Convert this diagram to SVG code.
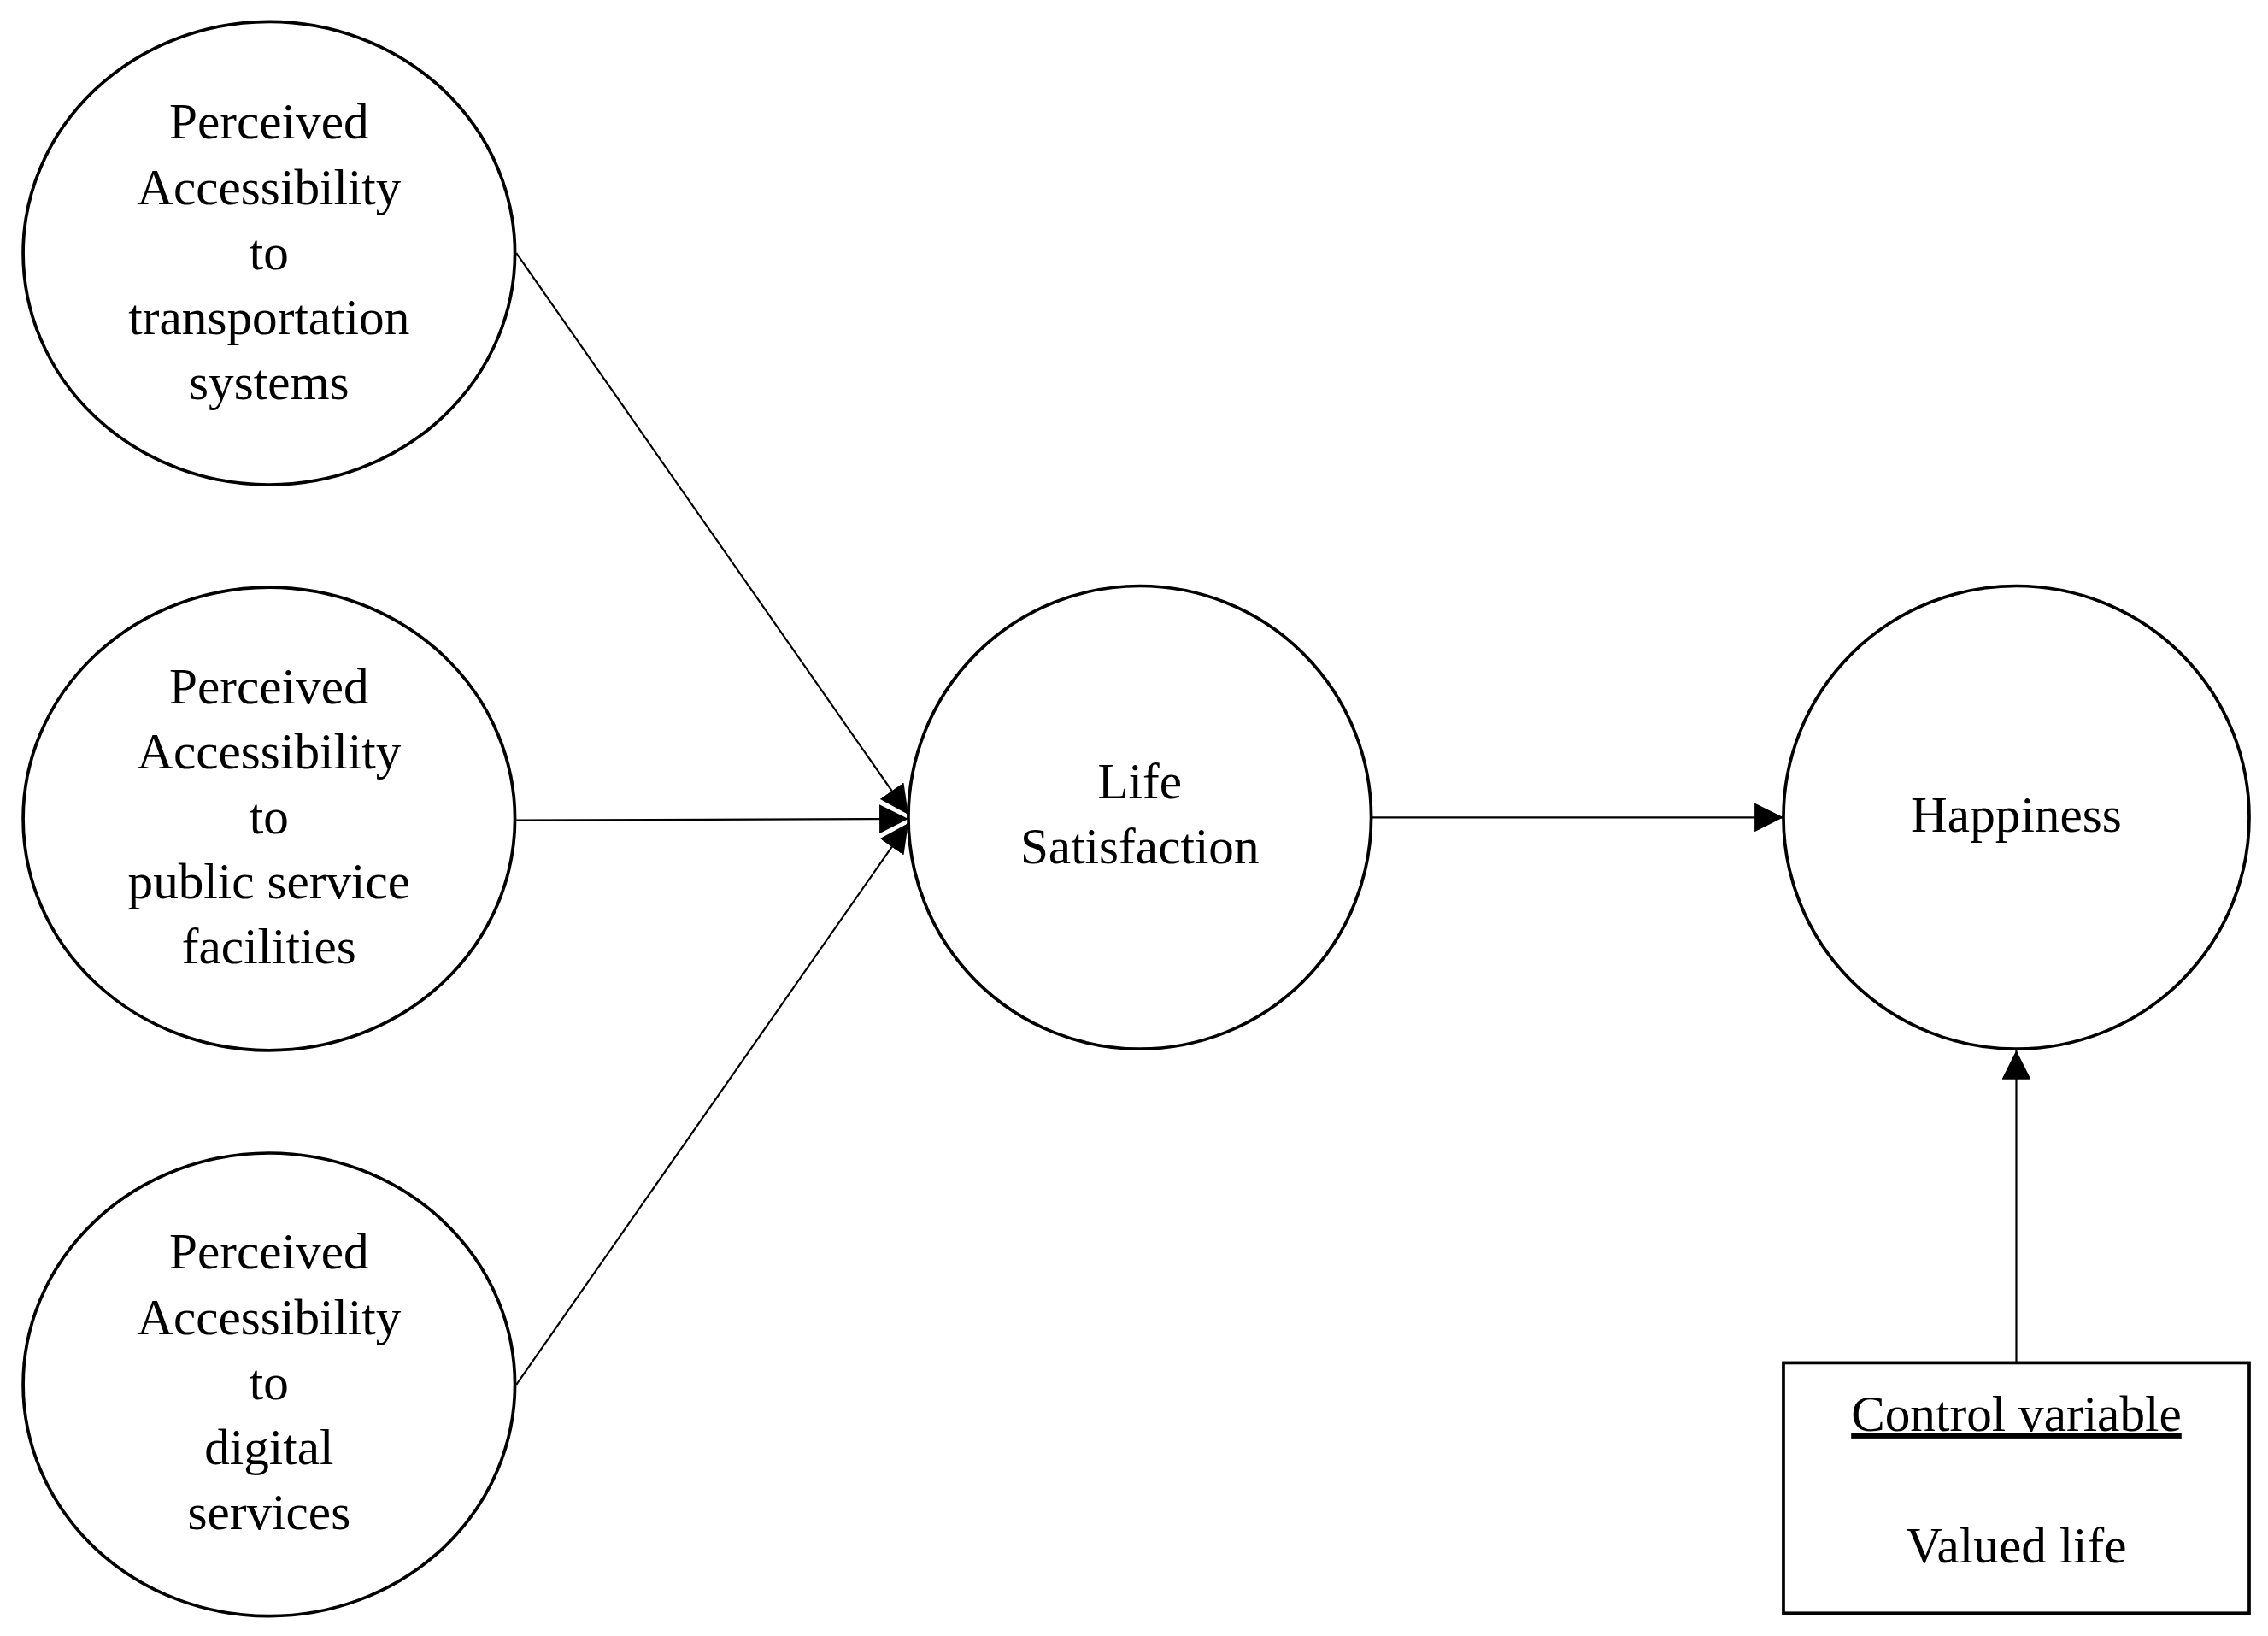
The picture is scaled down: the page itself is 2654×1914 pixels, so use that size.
<svg xmlns="http://www.w3.org/2000/svg" width="2654" height="1914" viewBox="0 0 2654 1914">
<style>
.n{fill:#fff;stroke:#000;stroke-width:2.2}
.t{font-family:"Liberation Serif","DejaVu Serif",serif;font-size:35px;text-anchor:middle;fill:#000}
.c{stroke:#000;stroke-width:1.3;fill:none}
</style>
<defs><marker id="a" markerWidth="10" markerHeight="10" refX="9" refY="5" orient="auto" markerUnits="userSpaceOnUse" viewBox="0 0 10 10"><path d="M0,0L10,5L0,10z" fill="#000"/></marker>
<marker id="b" viewBox="0 0 10 10" refX="10" refY="5" markerWidth="20" markerHeight="20" orient="auto" markerUnits="userSpaceOnUse"><path d="M0,0L10,5L0,10z" fill="#000"/></marker></defs>
<rect width="2654" height="1914" fill="#fff"/>
<g transform="scale(1.6926)">
<g id="connectors">
<line class="c" x1="357" y1="175" x2="628" y2="563" marker-end="url(#b)"/>
<line class="c" x1="357" y1="567" x2="628" y2="566" marker-end="url(#b)"/>
<line class="c" x1="357" y1="957" x2="628" y2="569" marker-end="url(#b)"/>
<line class="c" x1="948" y1="565" x2="1233" y2="565" marker-end="url(#b)"/>
<line class="c" x1="1394" y1="942" x2="1394" y2="726" marker-end="url(#b)"/>
</g>
<g id="n1"><ellipse class="n" cx="186" cy="175" rx="170" ry="160"/>
<text class="t" x="186" y="96">Perceived</text><text class="t" x="186" y="141">Accessibility</text><text class="t" x="186" y="186">to</text><text class="t" x="186" y="231">transportation</text><text class="t" x="186" y="276">systems</text></g>
<g id="n2"><ellipse class="n" cx="186" cy="566" rx="170" ry="160"/>
<text class="t" x="186" y="486">Perceived</text><text class="t" x="186" y="531">Accessibility</text><text class="t" x="186" y="576">to</text><text class="t" x="186" y="621">public service</text><text class="t" x="186" y="666">facilities</text></g>
<g id="n3"><ellipse class="n" cx="186" cy="957" rx="170" ry="160"/>
<text class="t" x="186" y="877">Perceived</text><text class="t" x="186" y="922">Accessibility</text><text class="t" x="186" y="967">to</text><text class="t" x="186" y="1012">digital</text><text class="t" x="186" y="1057">services</text></g>
<g id="life"><ellipse class="n" cx="788" cy="565" rx="160" ry="160"/>
<text class="t" x="788" y="552">Life</text><text class="t" x="788" y="597">Satisfaction</text></g>
<g id="happy"><ellipse class="n" cx="1394" cy="565" rx="161" ry="160"/>
<text class="t" x="1394" y="575">Happiness</text></g>
<g id="control"><rect class="n" x="1233" y="942" width="322" height="173"/>
<text class="t" x="1394" y="989" text-decoration="underline">Control variable</text><text class="t" x="1394" y="1080">Valued life</text></g>
</g>
</svg>
